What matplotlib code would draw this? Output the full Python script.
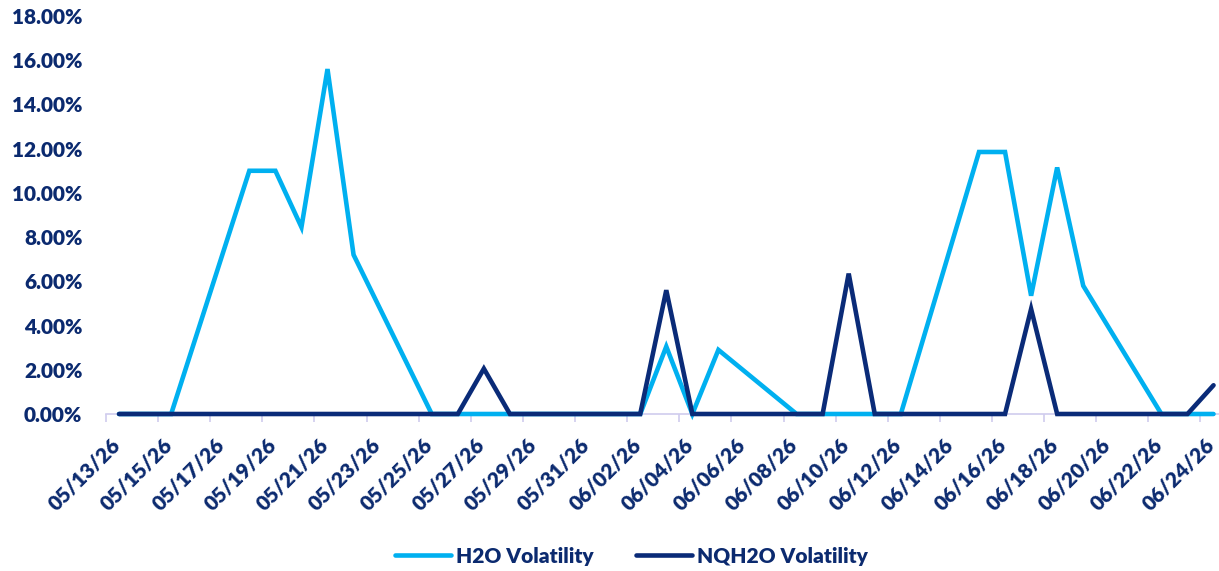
import matplotlib
matplotlib.use("Agg")
import matplotlib.pyplot as plt
import pandas as pd
import numpy as np

dates = ["2026-05-13", "2026-05-14", "2026-05-15", "2026-05-18", "2026-05-19", "2026-05-20",
         "2026-05-21", "2026-05-22", "2026-05-25", "2026-05-26", "2026-05-27", "2026-05-28",
         "2026-05-29", "2026-06-01", "2026-06-02", "2026-06-03", "2026-06-04", "2026-06-05",
         "2026-06-08", "2026-06-09", "2026-06-10", "2026-06-11", "2026-06-12", "2026-06-15",
         "2026-06-16", "2026-06-17", "2026-06-18", "2026-06-19", "2026-06-22", "2026-06-23",
         "2026-06-24"]
h2o_vol = [0, 0, 0, 11.0, 11.0, 8.45, 15.6, 7.2, 0, 0, 0, 0,
           0, 0, 0, 3.05, 0, 2.9, 0, 0, 0, 0, 0, 11.85,
           11.85, 5.35, 11.15, 5.8, 0, 0, 0]
nqh2o_vol = [0, 0, 0, 0, 0, 0, 0, 0, 0, 0, 2.05, 0,
             0, 0, 0, 5.6, 0, 0, 0, 0, 6.35, 0, 0, 0,
             0, 4.75, 0, 0, 0, 0, 1.3]
series_names = ["H2O Volatility", "NQH2O Volatility"]

LIGHT = "#00B0F0"
DARK = "#0A2B78"
TEXT = "#0B2A6F"
AXIS = "#D0CCEE"
FS = 15

plt.rcParams['font.family'] = ['Lato', 'DejaVu Sans']

fig = plt.figure(figsize=(12.19, 5.71), dpi=100)
ax = fig.add_axes([106 / 1219, 157 / 571, 1113 / 1219, 398 / 571])

d = pd.to_datetime(dates) + pd.Timedelta(hours=12)
ax.plot(d, h2o_vol, color=LIGHT, lw=3.3, solid_joinstyle='miter', solid_capstyle='round',
        clip_on=False, zorder=3, label=series_names[0])
ax.plot(d, nqh2o_vol, color=DARK, lw=3.3, solid_joinstyle='miter', solid_capstyle='round',
        clip_on=False, zorder=4, label=series_names[1])

start = pd.Timestamp("2026-05-13")
ax.set_xlim(start, start + pd.Timedelta(days=42.71))
ax.set_ylim(0, 18)

# tick marks at day boundaries every 2 days
tick_days = pd.date_range("2026-05-13", "2026-06-24", freq="2D")
ax.set_xticks(tick_days)
ax.set_xticklabels([])
ax.tick_params(axis='x', which='major', length=6, width=1.2, color=AXIS)
# labels placed just right of the labelled day slot's centre
ax.set_xticks(tick_days + pd.Timedelta(hours=14), minor=True)
ax.set_xticklabels([t.strftime("%m/%d/%y") for t in tick_days], minor=True,
                   rotation=45, ha='right', va='baseline', rotation_mode='anchor',
                   fontsize=FS, fontweight='heavy', color=TEXT)
ax.tick_params(axis='x', which='minor', length=0, pad=23)

ax.set_yticks(np.arange(0, 18.01, 2))
ax.set_yticklabels([f"{v:.2f}%" for v in np.arange(0, 18.01, 2)],
                   fontsize=FS, fontweight='heavy', color=TEXT)
ax.tick_params(axis='y', length=0, pad=17)

for s in ['top', 'right', 'left']:
    ax.spines[s].set_visible(False)
ax.spines['bottom'].set_color(AXIS)
ax.spines['bottom'].set_linewidth(1.2)

leg = fig.legend(loc='center', bbox_to_anchor=(0.518, 0.026), ncol=2, frameon=False,
                 handlelength=2.7, columnspacing=2.0, handletextpad=0.25,
                 prop={'weight': 'heavy', 'size': FS})
for t in leg.get_texts():
    t.set_color(TEXT)

fig.savefig("out.png", dpi=100)
